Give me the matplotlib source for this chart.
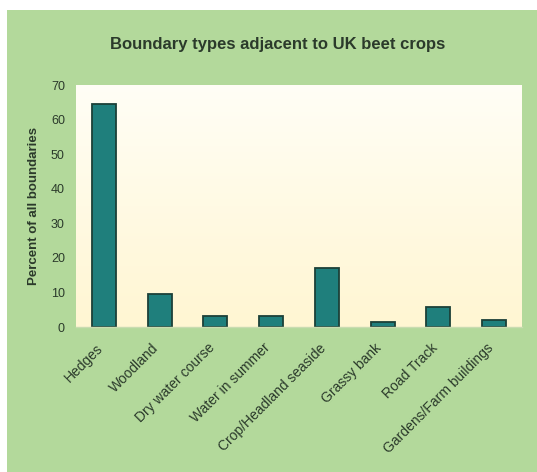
import matplotlib
matplotlib.use("Agg")
import matplotlib.pyplot as plt
import numpy as np
from matplotlib.patches import Rectangle
from matplotlib.transforms import ScaledTranslation

categories = ["Hedges", "Woodland", "Dry water course", "Water in summer",
              "Crop/Headland seaside", "Grassy bank", "Road Track",
              "Gardens/Farm buildings"]
percent = [64.5, 9.6, 3.3, 3.3, 17.1, 1.4, 5.7, 1.9]
yticks = [0, 10, 20, 30, 40, 50, 60, 70]

green = "#b3d99b"
text_col = "#2b3a2b"

plt.rcParams['font.family'] = ['Liberation Sans', 'DejaVu Sans']

fig = plt.figure(figsize=(5.37, 4.72), dpi=100, facecolor="white")
# green panel (white strip on top and left like the scan)
fig.patches.append(Rectangle((7 / 537, 0), 1, 1 - 10 / 472,
                             transform=fig.transFigure, facecolor=green,
                             edgecolor="none", zorder=-10))

ax = fig.add_axes([76 / 537, 1 - 327 / 472, (522 - 76) / 537, (327 - 85) / 472])
ax.set_facecolor("white")

# white -> pale yellow gradient behind the bars
grad = np.linspace(0, 1, 256).reshape(-1, 1)
cmap = matplotlib.colors.LinearSegmentedColormap.from_list("bg", ["#fffef6", "#fff6d2"])
ax.imshow(grad, cmap=cmap, aspect="auto", extent=[-0.5, len(categories) - 0.5, 0, 70],
          origin="upper", zorder=0)

x = np.arange(len(categories))
ax.bar(x, percent, width=0.43, color="#1f7f7c", edgecolor="#1b4038",
       linewidth=1.3, zorder=2)

ax.set_xlim(-0.5, len(categories) - 0.5)
ax.set_ylim(0, 70)
ax.set_yticks(yticks)
ax.set_yticklabels([str(t) for t in yticks], fontsize=9, color=text_col)
ax.set_xticks(x)
ax.set_xticklabels(categories, rotation=45, ha="right", rotation_mode="anchor",
                   fontsize=10, color=text_col)
ax.tick_params(axis="y", length=0, pad=8)
ax.tick_params(axis="x", length=0, pad=10)
# nudge the slanted labels a bit to the left, like the original
shift = ScaledTranslation(-8 / 100, 0, fig.dpi_scale_trans)
for lbl in ax.get_xticklabels():
    lbl.set_transform(lbl.get_transform() + shift)
for s in ["top", "right", "left"]:
    ax.spines[s].set_visible(False)
ax.spines["bottom"].set_color("#c9dcb0")
ax.spines["bottom"].set_linewidth(1)

ax.set_ylabel("Percent of all boundaries", fontsize=9.5, fontweight="bold",
              color=text_col, labelpad=8)

fig.text(278 / 537, 1 - 45 / 472, "Boundary types adjacent to UK beet crops",
         ha="center", va="center", fontsize=12, fontweight="bold", color=text_col)

fig.savefig("out.png", dpi=100, facecolor=fig.get_facecolor())
